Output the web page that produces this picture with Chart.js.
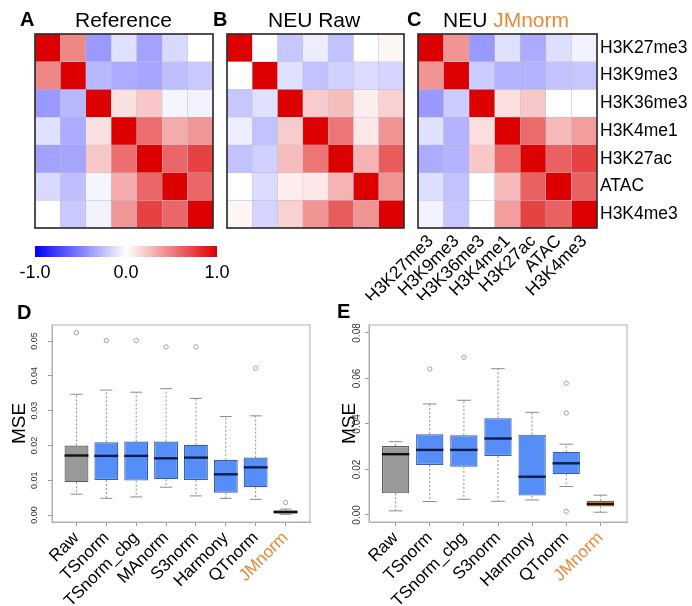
<!DOCTYPE html>
<html>
<head>
<meta charset="utf-8">
<script src="https://cdn.jsdelivr.net/npm/chart.js@4.4.1/dist/chart.umd.min.js"></script>
<style>
html,body{margin:0;padding:0;background:#fff;}
body{width:692px;height:606px;position:relative;overflow:hidden;font-family:"Liberation Sans",Arial,Helvetica,sans-serif;}
canvas{position:absolute;display:block;}
.txt{position:absolute;white-space:nowrap;line-height:1;color:#000;}
.letter{font-size:20px;font-weight:bold;}
.title{font-size:21px;}
.orange{color:#e8893a;}
</style>
</head>
<body>
<canvas id="hmA" width="230" height="240" style="left:0;top:0"></canvas>
<canvas id="hmB" width="200" height="240" style="left:215px;top:0"></canvas>
<canvas id="hmC" width="362" height="300" style="left:330px;top:0"></canvas>
<canvas id="cbar" width="250" height="54" style="left:0;top:236px"></canvas>
<canvas id="boxD" width="340" height="316" style="left:0;top:290px"></canvas>
<canvas id="boxE" width="362" height="316" style="left:330px;top:290px"></canvas>

<div class="txt letter" style="left:20px;top:9px">A</div>
<div class="txt title" style="left:75px;top:9px">Reference</div>
<div class="txt letter" style="left:213px;top:9px">B</div>
<div class="txt title" style="left:268px;top:9px">NEU Raw</div>
<div class="txt letter" style="left:407px;top:9px">C</div>
<div class="txt title" style="left:443px;top:9px">NEU <span class="orange">JMnorm</span></div>
<div class="txt letter" style="left:17px;top:302px">D</div>
<div class="txt letter" style="left:337px;top:301px">E</div>

<script>
// ---------------- data ----------------
const marks = ['H3K27me3','H3K9me3','H3K36me3','H3K4me1','H3K27ac','ATAC','H3K4me3'];

const corrReference = [
  [ 1.00, 0.47,-0.40,-0.12,-0.36,-0.15, 0.00],
  [ 0.47, 1.00,-0.28,-0.33,-0.35,-0.25,-0.21],
  [-0.40,-0.28, 1.00, 0.12, 0.22,-0.04,-0.05],
  [-0.12,-0.33, 0.12, 1.00, 0.57, 0.33, 0.41],
  [-0.36,-0.35, 0.22, 0.57, 1.00, 0.60, 0.74],
  [-0.15,-0.25,-0.04, 0.33, 0.60, 1.00, 0.60],
  [ 0.00,-0.21,-0.05, 0.41, 0.74, 0.60, 1.00]
];
const corrRaw = [
  [ 1.00, 0.00,-0.22,-0.07,-0.24, 0.00, 0.04],
  [ 0.00, 1.00,-0.12,-0.24,-0.18,-0.14,-0.17],
  [-0.22,-0.12, 1.00, 0.20, 0.26, 0.07, 0.18],
  [-0.07,-0.24, 0.20, 1.00, 0.54, 0.09, 0.42],
  [-0.24,-0.18, 0.26, 0.54, 1.00, 0.30, 0.64],
  [ 0.00,-0.14, 0.07, 0.09, 0.30, 1.00, 0.42],
  [ 0.04,-0.17, 0.18, 0.42, 0.64, 0.42, 1.00]
];
const corrJMnorm = [
  [ 1.00, 0.42,-0.40,-0.12,-0.33,-0.13,-0.05],
  [ 0.42, 1.00,-0.20,-0.30,-0.30,-0.24,-0.22],
  [-0.40,-0.20, 1.00, 0.13, 0.22, 0.00, 0.00],
  [-0.12,-0.30, 0.13, 1.00, 0.58, 0.27, 0.38],
  [-0.33,-0.30, 0.22, 0.58, 1.00, 0.62, 0.74],
  [-0.13,-0.24, 0.00, 0.27, 0.62, 1.00, 0.62],
  [-0.05,-0.22, 0.00, 0.38, 0.74, 0.62, 1.00]
];
const colorbarTicks = [-1, 0, 1];

// Panel D (MSE)
const methodsD = ['Raw','TSnorm','TSnorm_cbg','MAnorm','S3norm','Harmony','QTnorm','JMnorm'];
const lowD  = [0.0060,0.0048,0.0052,0.0080,0.0055,0.0048,0.0045,0.0002];
const q1D   = [0.0094,0.0101,0.0099,0.0103,0.0101,0.0064,0.0080,0.0004];
const medD  = [0.0171,0.0170,0.0170,0.0163,0.0165,0.0117,0.0137,0.0009];
const q3D   = [0.0200,0.0209,0.0211,0.0211,0.0202,0.0159,0.0165,0.0013];
const highD = [0.0347,0.0359,0.0353,0.0363,0.0335,0.0283,0.0285,0.0017];
const outD  = [[0.0524],[0.0501],[0.0501],[0.0483],[0.0483],[],[0.0422],[0.0036]];
const yTicksD = [0.00,0.01,0.02,0.03,0.04,0.05];

// Panel E (MSE)
const methodsE = ['Raw','TSnorm','TSnorm_cbg','S3norm','Harmony','QTnorm','JMnorm'];
const lowE  = [0.0018,0.0059,0.0069,0.0060,0.0066,0.0125,0.0012];
const q1E   = [0.0095,0.0220,0.0212,0.0259,0.0085,0.0179,0.0037];
const medE  = [0.0267,0.0286,0.0286,0.0336,0.0168,0.0227,0.0048];
const q3E   = [0.0303,0.0355,0.0350,0.0425,0.0353,0.0278,0.0062];
const highE = [0.0322,0.0488,0.0504,0.0643,0.0451,0.0311,0.0087];
const outE  = [[],[0.0642],[0.0693],[],[],[0.0579,0.0448,0.0016],[]];
const yTicksE = [0.00,0.02,0.04,0.06,0.08];

// ---------------- styling / helpers ----------------
const ORANGE = '#e8893a';
Chart.defaults.font.family = "'Liberation Sans', Arial, Helvetica, sans-serif";
Chart.defaults.color = '#000';
Chart.defaults.plugins.legend.display = false;
Chart.defaults.plugins.tooltip.enabled = false;

function corrColor(v) {
  const t = Math.max(-1, Math.min(1, v));
  let r, g, b;
  if (t < 0) { const a = -t; r = g = Math.round(255 * (1 - a)); b = 255; }
  else { r = Math.round(255 - 34 * t); g = b = Math.round(255 * (1 - t)); }
  return `rgb(${r},${g},${b})`;
}

const framePlugin = {
  id: 'frame',
  afterDatasetsDraw(chart, args, opts) {
    if (!opts || !opts.color) return;
    const a = chart.chartArea, ctx = chart.ctx;
    ctx.save();
    ctx.strokeStyle = opts.color;
    ctx.lineWidth = opts.width || 1;
    ctx.strokeRect(a.left, a.top, a.width, a.height);
    ctx.restore();
  }
};
Chart.register(framePlugin);

// ---------------- heatmaps ----------------
function heatmap(id, matrix, showLabels, padding) {
  const n = marks.length;
  const datasets = matrix.map((row, r) => ({
    data: row.map((v, c) => ({ x: marks[c], y: [n - r - 1, n - r] })),
    backgroundColor: row.map(corrColor),
    borderColor: 'rgba(120,120,165,0.35)',
    borderWidth: 0.5,
    borderSkipped: false,
    barPercentage: 1,
    categoryPercentage: 1,
    grouped: false
  }));
  return new Chart(document.getElementById(id), {
    type: 'bar',
    data: { labels: marks, datasets },
    options: {
      responsive: false, animation: false, devicePixelRatio: 1,
      layout: { padding },
      plugins: { frame: { color: '#262626', width: 1.6 } },
      scales: {
        x: {
          type: 'category', offset: true, display: showLabels,
          grid: { display: false, drawTicks: false }, border: { display: false },
          ticks: { autoSkip: false, minRotation: 45, maxRotation: 45, padding: 3, font: { size: 17.5 }, color: '#000' },
          afterFit: s => { if (showLabels) s.height = 72; }
        },
        y: {
          type: 'linear', min: 0, max: n, display: showLabels, position: 'right',
          grid: { display: false, drawTicks: false }, border: { display: false },
          afterBuildTicks: s => { s.ticks = marks.map((m, i) => ({ value: n - i - 0.5 })); },
          ticks: { autoSkip: false, padding: 3, font: { size: 17.5 }, color: '#000',
                   callback: v => marks[Math.round(n - 0.5 - v)] },
          afterFit: s => { if (showLabels) s.width = 95; }
        }
      }
    }
  });
}

heatmap('hmA', corrReference, false, { left: 35, top: 34, right: 17, bottom: 12 });
heatmap('hmB', corrRaw, false, { left: 12, top: 34, right: 11, bottom: 12 });
heatmap('hmC', corrJMnorm, true, { left: 88, top: 34, right: 0, bottom: 0 });

// ---------------- colour bar ----------------
new Chart(document.getElementById('cbar'), {
  type: 'bar',
  data: {
    labels: ['r'],
    datasets: [{
      data: [[colorbarTicks[0], colorbarTicks[colorbarTicks.length - 1]]],
      backgroundColor: (ctx) => {
        const chart = ctx.chart, a = chart.chartArea;
        if (!a) return '#fff';
        const g = chart.ctx.createLinearGradient(a.left, 0, a.right, 0);
        for (let k = 0; k <= 20; k++) g.addColorStop(k / 20, corrColor(-1 + k / 10));
        return g;
      },
      borderWidth: 0, barPercentage: 1, categoryPercentage: 1
    }]
  },
  options: {
    indexAxis: 'y', responsive: false, animation: false, devicePixelRatio: 1,
    layout: { padding: { left: 35, right: 33, top: 10, bottom: 0 } },
    scales: {
      x: {
        type: 'linear', min: colorbarTicks[0], max: colorbarTicks[colorbarTicks.length - 1],
        grid: { display: false, drawTicks: false }, border: { display: false },
        afterBuildTicks: s => { s.ticks = colorbarTicks.map(v => ({ value: v })); },
        ticks: { font: { size: 18 }, color: '#000', padding: 5, maxRotation: 0, callback: v => v.toFixed(1) },
        afterFit: s => { s.height = 33; }
      },
      y: { display: false }
    }
  }
});

// ---------------- box plots ----------------
function boxChart(id, cats, low, q1, med, q3, high, outs, yTicks, o) {
  const n = cats.length;
  const xs = cats.map((c, i) => i + 1);
  const ext = 0.04 * n;
  const fills   = cats.map((c, i) => i === 0 ? '#999999' : (i === n - 1 ? '#df8b3f' : '#568ef7'));
  const borders = cats.map((c, i) => i === 0 ? '#5f5f5f' : (i === n - 1 ? '#8c5a28' : '#3560ad'));
  const medCols = cats.map((c, i) => (i === 0 || i === n - 1) ? '#111111' : '#0c1d4a');
  const whisk = [], caps = [], meds = [], outl = [];
  xs.forEach((x, i) => {
    whisk.push({ x, y: q3[i] }, { x, y: high[i] }, { x, y: null },
               { x, y: q1[i] }, { x, y: low[i] }, { x, y: null });
    caps.push({ x: x - 0.2, y: high[i] }, { x: x + 0.2, y: high[i] }, { x, y: null },
              { x: x - 0.2, y: low[i] }, { x: x + 0.2, y: low[i] }, { x, y: null });
    meds.push({ x: x - 0.4, y: med[i] }, { x: x + 0.4, y: med[i] }, { x, y: null });
    outs[i].forEach(v => outl.push({ x, y: v }));
  });
  return new Chart(document.getElementById(id), {
    type: 'bar',
    data: {
      datasets: [
        { type: 'bar', data: xs.map((x, i) => ({ x, y: [q1[i], q3[i]] })),
          backgroundColor: fills, borderColor: borders, borderWidth: 1.2, borderSkipped: false,
          barPercentage: 0.8, categoryPercentage: 1, order: 2 },
        { type: 'line', data: whisk, borderColor: '#8c8c8c', borderWidth: 1, borderDash: [2, 2],
          pointRadius: 0, spanGaps: false, fill: false, order: 3 },
        { type: 'line', data: caps, borderColor: '#8c8c8c', borderWidth: 1,
          pointRadius: 0, spanGaps: false, fill: false, order: 3 },
        { type: 'line', data: meds, borderWidth: 2.4, pointRadius: 0, spanGaps: false, fill: false, order: 0,
          borderColor: '#111', segment: { borderColor: c => medCols[Math.floor(c.p0DataIndex / 3)] } },
        { type: 'line', data: outl, showLine: false, pointRadius: 2.2, pointStyle: 'circle',
          pointBorderColor: '#8c8c8c', pointBackgroundColor: 'rgba(0,0,0,0)', pointBorderWidth: 0.8, order: 1 }
      ]
    },
    options: {
      responsive: false, animation: false, devicePixelRatio: 1,
      layout: { padding: o.padding },
      plugins: { frame: { color: '#b0b0b0', width: 1 } },
      scales: {
        x: {
          type: 'linear', min: 0.5 - ext, max: n + 0.5 + ext, offset: false,
          afterBuildTicks: s => { s.ticks = xs.map(v => ({ value: v })); },
          grid: { display: true, drawOnChartArea: false, drawTicks: true, tickLength: 4, color: '#999', offset: false },
          border: { display: true, color: '#b0b0b0' },
          ticks: { autoSkip: false, minRotation: 45, maxRotation: 45, padding: 2, font: { size: 17 },
                   color: c => (c.index === n - 1 ? ORANGE : '#000'), callback: (v, i) => cats[i] },
          afterFit: s => { s.height = o.xh; }
        },
        y: {
          type: 'linear', min: o.ymin, max: o.ymax,
          afterBuildTicks: s => { s.ticks = yTicks.map(v => ({ value: v })); },
          grid: { display: true, drawOnChartArea: false, drawTicks: true, tickLength: 4, color: '#999' },
          border: { display: true, color: '#b0b0b0' },
          ticks: { minRotation: 90, maxRotation: 90, crossAlign: 'center', padding: o.yPad,
                   font: { size: o.yFont }, color: '#333', callback: v => v.toFixed(2) },
          title: { display: true, text: 'MSE', font: { size: 19 }, color: '#000', padding: { top: 8, bottom: 0 } },
          afterFit: s => { s.width = o.yw; }
        }
      }
    }
  });
}

boxChart('boxD', methodsD, lowD, q1D, medD, q3D, highD, outD, yTicksD,
  { padding: { left: 0, top: 35, right: 30, bottom: 0 }, xh: 84, yw: 52, ymin: -0.002, ymax: 0.0546, yPad: 5, yFont: 9 });
boxChart('boxE', methodsE, lowE, q1E, medE, q3E, highE, outE, yTicksE,
  { padding: { left: 0, top: 35, right: 65, bottom: 0 }, xh: 84, yw: 39, ymin: -0.0031, ymax: 0.0835, yPad: -2, yFont: 10 });
</script>
</body>
</html>
